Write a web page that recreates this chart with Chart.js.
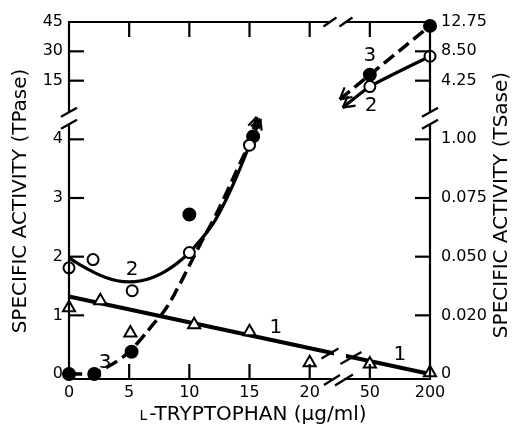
<!DOCTYPE html>
<html><head><meta charset="utf-8">
<script src="https://cdn.jsdelivr.net/npm/chart.js@4.4.1/dist/chart.umd.min.js"></script>
<style>html,body{margin:0;padding:0;background:#fff;overflow:hidden}</style>
</head><body>
<canvas id="c" width="514" height="429"></canvas>
<script>
// ---------------- data ----------------
const xTickValues = [0, 5, 10, 15, 20, 50, 200];
const xTickLabels = ['0', '5', '10', '15', '20', '50', '200'];
const leftLowTicks = [0, 1, 2, 3, 4];
const leftUpTicks = [15, 30, 45];
const leftTickLabels = ['0', '1', '2', '3', '4', '15', '30', '45'];
const rightTickLabels = ['0', '0.020', '0.050', '0.075', '1.00', '4.25', '8.50', '12.75'];

// curve 1 : open triangles
const tri_x = [0, 2.6, 5.1, 10.4, 15, 20, 50, 200];
const tri_y = [1.13, 1.25, 0.70, 0.84, 0.72, 0.19, 0.17, 0.02];
const fit1_x = [0, 200];
const fit1_y = [1.32, 0];

// curve 2 : open circles
const open_x = [0, 2.0, 5.25, 10, 15];
const open_y = [1.81, 1.95, 1.42, 2.07, 3.9];
const fit2_x = [0, 1, 2, 3, 4, 5, 6, 7, 8, 9, 10, 11, 12, 13, 14, 15, 15.9];
const fit2_y = [1.98, 1.85, 1.74, 1.65, 1.59, 1.57, 1.59, 1.65, 1.75, 1.89, 2.07, 2.3, 2.57, 2.95, 3.4, 3.9, 4.35];

// curve 3 : filled circles
const filled_x = [0, 2.1, 5.2, 10, 15.3];
const filled_y = [0, 0, 0.38, 2.72, 4.05];
const fit3_x = [0, 1, 2, 3, 4, 5, 6, 7, 8, 9, 10, 11, 12, 13, 14, 15, 15.6];
const fit3_y = [0, 0, 0.02, 0.1, 0.22, 0.38, 0.6, 0.85, 1.1, 1.45, 1.85, 2.25, 2.63, 3.05, 3.5, 3.95, 4.38];

// upper segment (15-45 part of the left axis)
const upOpen_x = [50, 200];
const upOpen_y = [12, 27.5];
const upFit2_x = [36.5, 50, 200];
const upFit2_y = [1.2, 12, 27.5];
const upFilled_x = [50, 200];
const upFilled_y = [18, 43];
const upFit3_x = [35, 50, 200];
const upFit3_y = [5.4, 18, 43];

// ---------------- broken-axis transforms ----------------
const xp = x => x <= 20 ? x : (x <= 50 ? 20 + (x - 20) / 6 : 25 + (x - 50) / 30);
const yLow = v => v;
const yUp = v => 4.5 + v / 30;
const pts = (xs, ys, fy) => xs.map((x, i) => ({ x: xp(x), y: fy(ys[i]) }));

const yTickPos = leftLowTicks.map(yLow).concat(leftUpTicks.map(yUp));
const Y_MIN = -0.085, Y_MAX = 6, X_MIN = 0, X_MAX = 30;
const BREAK_Y = 4.36, BREAK_X = 22.35, LINE_BREAK_X = 22.6;

const FONT = '"DejaVu Sans", sans-serif';

const overlay = {
  id: 'overlay',
  afterDatasetsDraw(chart) {
    const ctx = chart.ctx, ca = chart.chartArea;
    const xs = chart.scales.x, ys = chart.scales.y;
    const L = ca.left, R = ca.right, T = ca.top, B = ca.bottom;
    const yb = ys.getPixelForValue(BREAK_Y);
    const xb = xs.getPixelForValue(BREAK_X);
    ctx.save();
    ctx.strokeStyle = '#000'; ctx.fillStyle = '#000'; ctx.lineCap = 'butt';

    // gap in curve 1 line
    const p0 = { x: xp(fit1_x[0]), y: fit1_y[0] }, p1 = { x: xp(fit1_x[1]), y: fit1_y[1] };
    const lineY = px => ys.getPixelForValue(p0.y + (p1.y - p0.y) * (xs.getValueForPixel(px) - p0.x) / (p1.x - p0.x));
    const lb = xs.getPixelForValue(LINE_BREAK_X);
    const gx0 = lb - 7, gx1 = lb + 5;
    ctx.fillStyle = '#fff';
    ctx.beginPath();
    ctx.moveTo(gx0, lineY(gx0) - 4);
    ctx.lineTo(gx1, lineY(gx1) - 4);
    ctx.lineTo(gx1, lineY(gx1) + 4);
    ctx.lineTo(gx0, lineY(gx0) + 4);
    ctx.closePath(); ctx.fill();
    ctx.fillStyle = '#000';

    const seg = (x0, y0, x1, y1) => { ctx.beginPath(); ctx.moveTo(x0, y0); ctx.lineTo(x1, y1); ctx.stroke(); };
    const slash = (cx, cy, dx, dy) => seg(cx - dx / 2, cy + dy / 2, cx + dx / 2, cy - dy / 2);

    // axes with gaps
    ctx.lineWidth = 2.2;
    seg(L, B + 1, L, yb + 6); seg(L, yb - 6, L, T - 1);
    seg(R, B + 1, R, yb + 6); seg(R, yb - 6, R, T - 1);
    seg(L - 1, T, xb - 7, T); seg(xb + 7, T, R + 1, T);
    seg(L - 1, B, xb - 6, B); seg(xb + 6, B, R + 1, B);

    // tick marks (inward)
    const tl = 15;
    yTickPos.forEach(v => {
      if (v <= 0 || v >= Y_MAX) return;
      const py = ys.getPixelForValue(v);
      seg(L, py, L + tl, py);
      seg(R, py, R - tl, py);
    });
    xTickValues.forEach(v => {
      const p = xp(v);
      if (p <= X_MIN || p >= X_MAX) return;
      const px = xs.getPixelForValue(p);
      seg(px, B, px, B - tl);
      seg(px, T, px, T + tl);
    });

    // break slashes
    slash(L, yb - 6, 16, 9); slash(L, yb + 6, 16, 9);
    slash(R, yb - 6, 16, 9); slash(R, yb + 6, 16, 9);
    slash(xb - 8, T, 13, 9); slash(xb + 8, T, 13, 9);
    slash(xb - 6, B + 1, 16, 10); slash(xb + 6, B + 1, 18, 11);
    slash(lb - 11, lineY(lb - 11) + 1, 17, 10);
    slash(lb + 10, lineY(lb + 10) + 1, 21, 12);

    // arrow heads at curve ends
    const arrow = (pa, pb, len, ang) => {
      const ax = xs.getPixelForValue(pa.x), ay = ys.getPixelForValue(pa.y);
      const bx = xs.getPixelForValue(pb.x), by = ys.getPixelForValue(pb.y);
      const th = Math.atan2(ay - by, ax - bx);
      ctx.lineWidth = 2.2;
      seg(bx, by, bx + len * Math.cos(th + ang), by + len * Math.sin(th + ang));
      seg(bx, by, bx + len * Math.cos(th - ang), by + len * Math.sin(th - ang));
    };
    const f2 = pts(fit2_x, fit2_y, yLow), f3 = pts(fit3_x, fit3_y, yLow);
    arrow(f2[f2.length - 2], f2[f2.length - 1], 12, 0.5);
    arrow(f3[f3.length - 2], f3[f3.length - 1], 12, 0.5);
    const u2 = pts(upFit2_x, upFit2_y, yUp), u3 = pts(upFit3_x, upFit3_y, yUp);
    arrow(u2[1], u2[0], 13, 0.5);
    arrow(u3[1], u3[0], 13, 0.5);

    // curve labels (positions in scale units)
    ctx.font = '20px ' + FONT; ctx.textAlign = 'center'; ctx.textBaseline = 'middle';
    const lab = (t, px, py) => ctx.fillText(t, xs.getPixelForValue(px), ys.getPixelForValue(py));
    lab('1', 17.2, 0.79); lab('1', 27.5, 0.32);
    lab('2', 5.24, 1.78); lab('2', 25.1, 4.58);
    lab('3', 3.0, 0.19); lab('3', 25.0, 5.42);

    // axis titles
    ctx.font = '20px ' + FONT;
    ctx.save(); ctx.translate(20.5, 201); ctx.rotate(-Math.PI / 2);
    ctx.fillText('SPECIFIC ACTIVITY (TPase)', 0, 0); ctx.restore();
    ctx.save(); ctx.translate(502, 205); ctx.rotate(-Math.PI / 2);
    ctx.fillText('SPECIFIC ACTIVITY (TSase)', 0, 0); ctx.restore();

    // x title with small-capital L
    ctx.textBaseline = 'alphabetic'; ctx.textAlign = 'left';
    const t1 = 'L', t2 = '-TRYPTOPHAN (μg/ml)';
    ctx.font = '14px ' + FONT; const w1 = ctx.measureText(t1).width;
    ctx.font = '20px ' + FONT; const w2 = ctx.measureText(t2).width;
    const x0 = 253 - (w1 + w2 + 2) / 2;
    ctx.font = '14px ' + FONT; ctx.fillText(t1, x0, 420);
    ctx.font = '20px ' + FONT; ctx.fillText(t2, x0 + w1 + 2, 420);
    ctx.restore();
  }
};

const lineDS = (data, extra) => Object.assign({
  data, showLine: true, borderColor: '#000', borderWidth: 3, pointRadius: 0,
  fill: false, tension: 0.4, clip: false, order: 3
}, extra);
const pointDS = (data, extra) => Object.assign({
  data, showLine: false, borderColor: '#000', backgroundColor: '#fff',
  borderWidth: 2, pointRadius: 5.5, pointHoverRadius: 5.5, clip: false, order: 1
}, extra);

new Chart(document.getElementById('c'), {
  type: 'scatter',
  data: {
    datasets: [
      lineDS(pts(fit1_x, fit1_y, yLow), { borderWidth: 4.2, tension: 0 }),
      lineDS(pts(fit2_x, fit2_y, yLow), { borderWidth: 3.2 }),
      lineDS(pts(fit3_x, fit3_y, yLow), { borderWidth: 3.5, borderDash: [13, 6] }),
      lineDS(pts(upFit2_x, upFit2_y, yUp), { borderWidth: 3.2, tension: 0.2 }),
      lineDS(pts(upFit3_x, upFit3_y, yUp), { borderWidth: 3.5, borderDash: [13, 6], tension: 0 }),
      pointDS(pts(tri_x, tri_y, yLow), { pointStyle: 'triangle', pointRadius: 7, pointHoverRadius: 7 }),
      pointDS(pts(open_x, open_y, yLow)),
      pointDS(pts(upOpen_x, upOpen_y, yUp)),
      pointDS(pts(filled_x, filled_y, yLow), { backgroundColor: '#000', pointRadius: 6, pointHoverRadius: 6 }),
      pointDS(pts(upFilled_x, upFilled_y, yUp), { backgroundColor: '#000', pointRadius: 6, pointHoverRadius: 6 })
    ]
  },
  options: {
    responsive: false, animation: false, devicePixelRatio: 1,
    layout: { padding: { top: 22, left: 0, right: 0, bottom: 0 } },
    plugins: { legend: { display: false }, tooltip: { enabled: false } },
    scales: {
      x: {
        type: 'linear', position: 'bottom', min: X_MIN, max: X_MAX,
        grid: { display: false, drawTicks: false }, border: { display: false },
        ticks: { color: '#000', font: { family: FONT, size: 16 }, padding: 4, autoSkip: false, maxRotation: 0,
          callback: (v, i) => xTickLabels[i] },
        afterBuildTicks: s => { s.ticks = xTickValues.map(v => ({ value: xp(v) })); },
        afterFit: s => { s.height = 50; }
      },
      y: {
        type: 'linear', position: 'left', min: Y_MIN, max: Y_MAX,
        grid: { display: false, drawTicks: false }, border: { display: false },
        ticks: { color: '#000', font: { family: FONT, size: 16 }, padding: 6,
          callback: (v, i) => leftTickLabels[i] },
        afterBuildTicks: s => { s.ticks = yTickPos.map(v => ({ value: v })); },
        afterFit: s => { s.width = 69; }
      },
      y2: {
        type: 'linear', position: 'right', min: Y_MIN, max: Y_MAX,
        grid: { display: false, drawTicks: false }, border: { display: false },
        ticks: { color: '#000', font: { family: FONT, size: 16 }, padding: 11,
          callback: (v, i) => rightTickLabels[i] },
        afterBuildTicks: s => { s.ticks = yTickPos.map(v => ({ value: v })); },
        afterFit: s => { s.width = 84; }
      }
    }
  },
  plugins: [overlay]
});
</script>
</body></html>
